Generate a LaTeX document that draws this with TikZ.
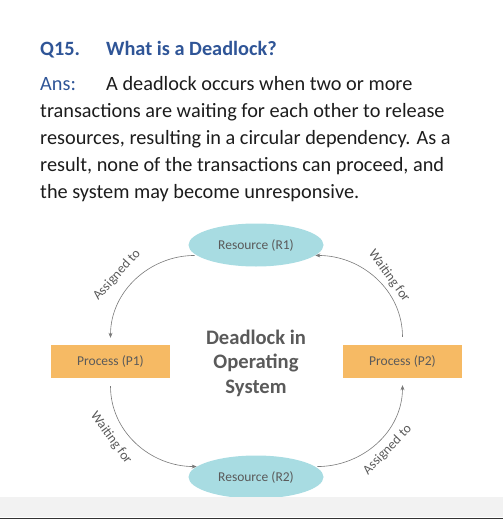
\documentclass[tikz,border=0pt]{standalone}
\usepackage{fontspec}
\setmainfont{Carlito}
\usetikzlibrary{arrows.meta,shapes.geometric}
\definecolor{headblue}{HTML}{2F5597}
\definecolor{bodyblack}{HTML}{1C1C1C}
\definecolor{rescol}{HTML}{A8DCE2}
\definecolor{proccol}{HTML}{F6BA64}
\definecolor{labgray}{HTML}{5A5A5A}
\definecolor{linkgray}{HTML}{7A7A7A}
\definecolor{bandgray}{HTML}{F2F2F2}

\begin{document}
\begin{tikzpicture}[x=1pt,y=-1pt,
    line/.style={anchor=base west,inner sep=0pt,text=bodyblack,font=\fontsize{20.3}{22}\selectfont},
    head/.style={line,text=headblue,font=\fontsize{20.3}{22}\selectfont\bfseries},
    res/.style={ellipse,fill=rescol,minimum width=135pt,minimum height=43pt,text=labgray,font=\fontsize{13.5}{15}\selectfont},
    proc/.style={rectangle,fill=proccol,minimum width=119pt,minimum height=33pt,text=labgray,font=\fontsize{13.5}{15}\selectfont},
    link/.style={draw=linkgray,line width=0.6pt,-{Stealth[length=5pt,width=4pt]}},
    lbl/.style={inner sep=0pt,text=labgray,font=\fontsize{13.5}{15}\selectfont}]
    \useasboundingbox (0,0) rectangle (503,519);

    % question and answer
    \node[head] (q) at (40,56) {Q15.};
    \node[head] (qt) at (106,56) {What is a Deadlock?};
    \node[line,text=headblue] (ans) at (40,90) {Ans:};
    \node[line] (l1) at (106,90) {A deadlock occurs when two or more};
    \node[line] (l2) at (40,117) {transactions are waiting for each other to release};
    \node[line] (l3) at (40,144) {resources, resulting in a circular dependency. As a};
    \node[line] (l4) at (40,171) {result, none of the transactions can proceed, and};
    \node[line] (l5) at (40,198) {the system may become unresponsive.};

    % diagram
    \node[res] (r1) at (256,245) {Resource (R1)};
    \node[res] (r2) at (256,477) {Resource (R2)};
    \node[proc] (p1) at (110.5,361.5) {Process (P1)};
    \node[proc] (p2) at (402.5,361.5) {Process (P2)};
    \node[align=center,text=labgray,font=\fontsize{20.6}{24.5}\selectfont\bfseries] (os) at (256,363) {Deadlock in\\Operating\\System};

    \draw[link,shorten <=2pt] (r1.190) to[out=180,in=90] ([yshift=7pt]p1.north);
    \draw[link,shorten <=1pt] ([yshift=7pt]p2.north) to[out=90,in=0] (r1.-10);
    \draw[link,shorten <=1pt] ([yshift=-7pt]p1.south) to[out=-90,in=180] (r2.170);
    \draw[link,shorten <=2pt] (r2.10) to[out=0,in=-90] ([yshift=-7pt]p2.south);

    \node[lbl,rotate=48] (a1) at (117,275) {Assigned to};
    \node[lbl,rotate=-54] (w1) at (389,276) {Waiting for};
    \node[lbl,rotate=-54] (w2) at (111,438) {Waiting for};
    \node[lbl,rotate=46] (a2) at (387.5,450) {Assigned to};

    % bottom band
    \fill[bandgray] (0,497) rectangle (503,517);
    \fill[black!80] (0,517.5) rectangle (503,519);
\end{tikzpicture}
\end{document}
